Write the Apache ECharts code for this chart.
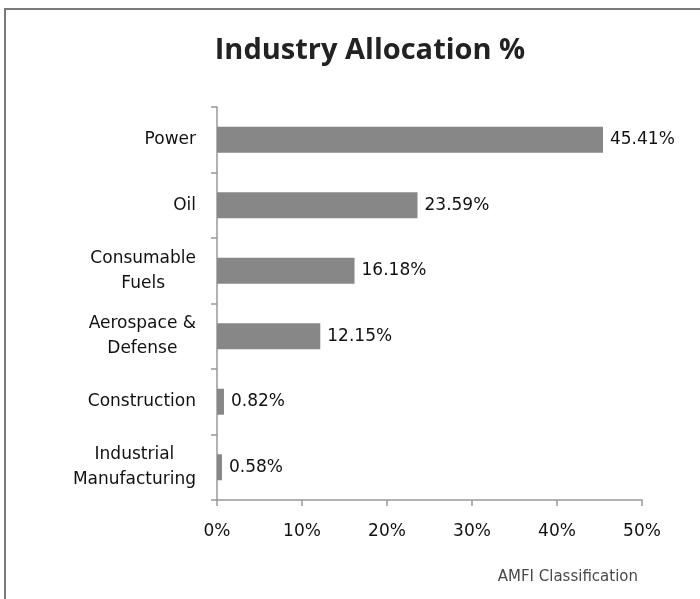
<!DOCTYPE html>
<html>
<head>
<meta charset="utf-8">
<script src="https://cdn.jsdelivr.net/npm/echarts@6/dist/echarts.min.js"></script>
<style>
  html, body { margin: 0; padding: 0; background: #fff; }
  #main { width: 700px; height: 599px; }
</style>
</head>
<body>
<div id="main"></div>
<script>
// categories top to bottom
var categories = ['Power', 'Oil', 'Consumable\nFuels', 'Aerospace &\nDefense', 'Construction', 'Industrial\nManufacturing']
var allocation = [45.41, 23.59, 16.18, 12.15, 0.82, 0.58]
var xTicks = [0, 10, 20, 30, 40, 50]

var FONT = '"DejaVu Sans", sans-serif'
var TITLE_FONT = '"Open Sans", sans-serif'

var chart = echarts.init(document.getElementById('main'), null, { renderer: 'canvas' })

var option = {
  backgroundColor: '#fff',
  animation: false,
  title: {
    text: 'Industry Allocation %',
    left: 365,
    textAlign: 'center',
    top: 31,
    textStyle: {
      fontFamily: TITLE_FONT,
      fontSize: 29,
      fontWeight: 'bold',
      color: '#222'
    }
  },
  graphic: [
    {
      type: 'rect',
      shape: { x: 5, y: 9, width: 900, height: 800 },
      style: { fill: null, stroke: '#7a7a7a', lineWidth: 2 },
      silent: true
    },
    {
      type: 'text',
      right: 62,
      top: 570,
      style: {
        text: 'AMFI Classification',
        fontFamily: FONT,
        fontSize: 15,
        fill: '#4a4a4a'
      }
    }
  ],
  grid: {
    left: 217,
    right: 58,
    top: 107,
    bottom: 99
  },
  xAxis: {
    type: 'value',
    min: xTicks[0],
    max: xTicks[xTicks.length - 1],
    interval: 10,
    splitLine: { show: false },
    axisLine: { show: true, lineStyle: { color: '#999', width: 1.5 } },
    axisTick: { show: true, length: 6, lineStyle: { color: '#999', width: 1.5 } },
    axisLabel: {
      margin: 23,
      fontFamily: FONT,
      fontSize: 17,
      color: '#111',
      formatter: function (v) { return v + '%' }
    }
  },
  yAxis: {
    type: 'category',
    data: categories,
    inverse: true,
    axisLine: { show: true, lineStyle: { color: '#999', width: 1.5 } },
    axisTick: { show: true, length: 6, lineStyle: { color: '#999', width: 1.5 } },
    axisLabel: {
      margin: 21,
      fontFamily: FONT,
      fontSize: 17,
      color: '#111',
      lineHeight: 25,
      formatter: function (v) {
        return v.split('\n').map(function (s) { return '{c|' + s + '}' }).join('\n')
      },
      rich: {
        c: {
          align: 'center',
          fontFamily: FONT,
          fontSize: 17,
          color: '#111',
          lineHeight: 25
        }
      }
    }
  },
  series: [
    {
      type: 'bar',
      data: allocation,
      barWidth: 26,
      itemStyle: { color: '#878787' },
      label: {
        show: true,
        position: 'right',
        distance: 7,
        fontFamily: FONT,
        fontSize: 17,
        color: '#111',
        formatter: function (p) { return p.value.toFixed(2) + '%' }
      }
    }
  ]
}

chart.setOption(option)
</script>
</body>
</html>
